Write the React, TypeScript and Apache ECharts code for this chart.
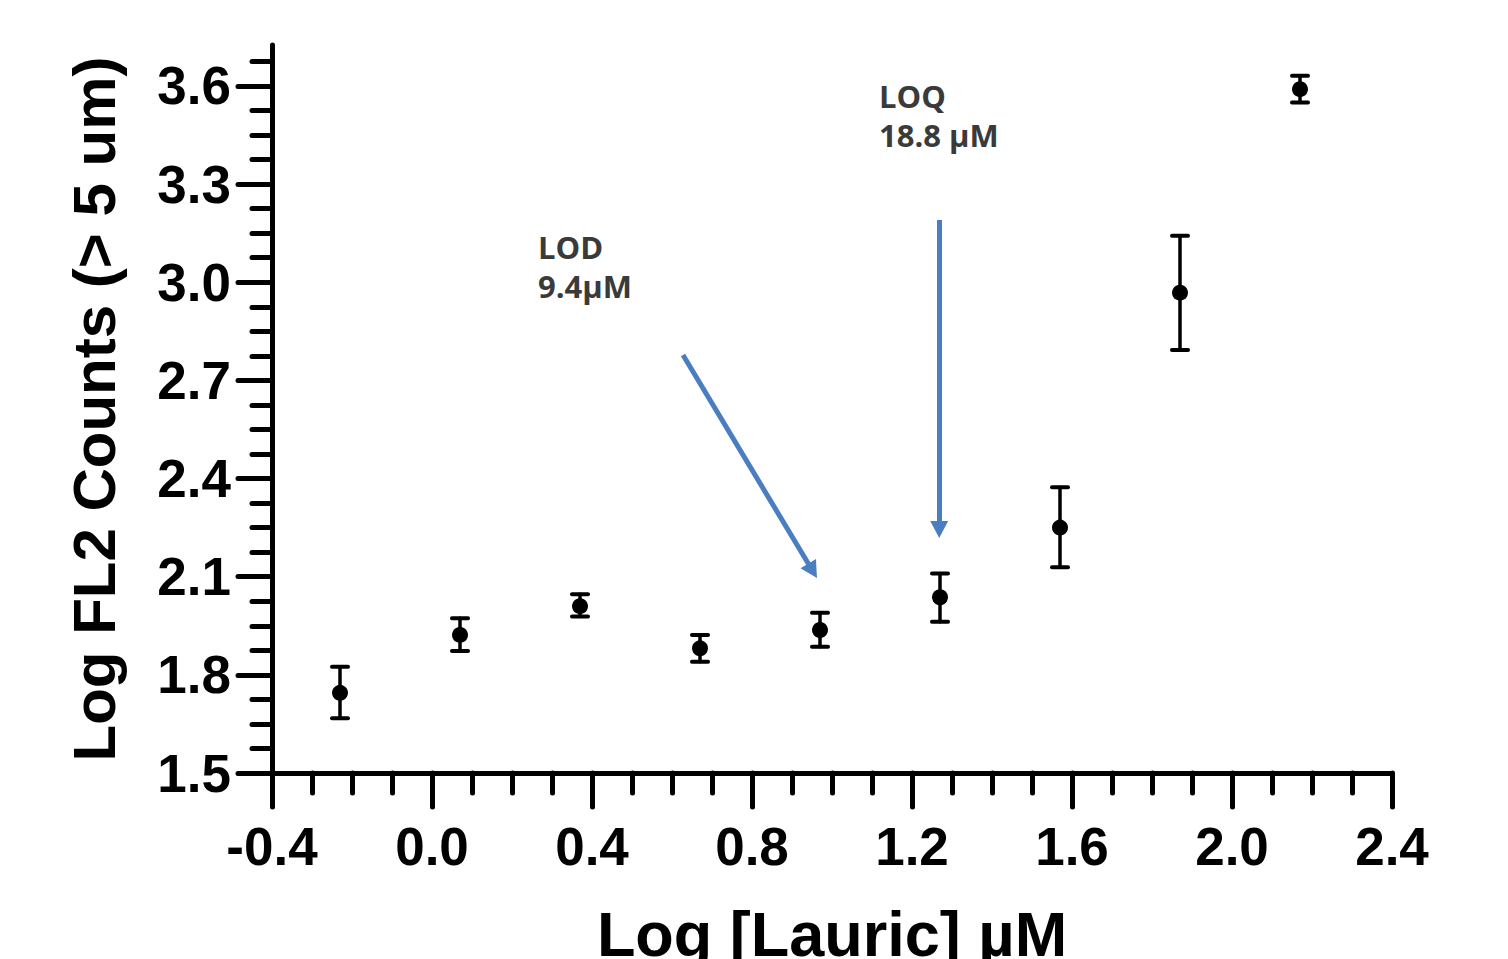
import React, { useEffect, useRef } from "react";
import * as echarts from "echarts";

// Log10 of lauric acid concentration (µM)
const xValues = [-0.23, 0.07, 0.37, 0.67, 0.97, 1.27, 1.57, 1.87, 2.17];
// Mean Log FL2 counts
const yMeans = [1.745, 1.922, 2.01, 1.881, 1.937, 2.037, 2.25, 2.968, 3.59];
// Error bar bounds
const yLower = [1.667, 1.873, 1.978, 1.84, 1.886, 1.962, 2.129, 2.793, 3.549];
const yUpper = [1.825, 1.973, 2.046, 1.922, 1.99, 2.11, 2.373, 3.142, 3.631];

const yMajorTicks = [1.5, 1.8, 2.1, 2.4, 2.7, 3.0, 3.3, 3.6];
const yMinorStep = 0.075;

// annotation arrows in data coords: [x1, y1, x2, y2]
const lodArrow = [0.6275, 2.7775, 0.9515, 2.118];
const loqArrow = [1.268, 3.19, 1.268, 2.244];
// annotation labels: text and top-left anchor in data coords
const lodLabel = { text: "LOD\n9.4µM", x: 0.265, y: 3.166 };
const loqLabel = { text: "LOQ\n18.8 µM", x: 1.1175, y: 3.63 };

const BLUE = "#4a7ebf";
const AXIS_FONT = "'Liberation Sans', Arial, sans-serif";

export default function App() {
  const ref = useRef<HTMLDivElement>(null);

  useEffect(() => {
    document.body.style.margin = "0";
    if (!ref.current) return;
    const chart = echarts.init(ref.current, null, { renderer: "svg" });

    const yMin = 1.5;
    const yMax = 3.725;
    const yMinor: number[] = [];
    for (let k = 0; yMin + k * yMinorStep <= 3.68; k++) {
      yMinor.push(Math.round((yMin + k * yMinorStep) * 1000) / 1000);
    }

    const errData = xValues.map((x, i) => [x, yLower[i], yUpper[i]]);
    const ptData = xValues.map((x, i) => [x, yMeans[i]]);

    const axisLineStyle = { color: "#000", width: 5, cap: "round" as const };

    chart.setOption({
      animation: false,
      backgroundColor: "#fff",
      grid: {
        left: 272,
        top: 45,
        width: 1120,
        height: 728,
        containLabel: false,
        outerBoundsMode: "none",
      },
      xAxis: {
        type: "value",
        min: -0.4,
        max: 2.4,
        interval: 0.4,
        name: "Log [Lauric] µM",
        nameLocation: "middle",
        nameGap: 129,
        nameTextStyle: {
          fontFamily: AXIS_FONT,
          fontWeight: "bold",
          fontSize: 63,
          color: "#000",
        },
        axisLine: { show: true, onZero: false, lineStyle: axisLineStyle },
        axisTick: { show: true, length: 34, lineStyle: { width: 5, color: "#000", cap: "round" } },
        minorTick: {
          show: true,
          splitNumber: 4,
          length: 20,
          lineStyle: { width: 5, color: "#000", cap: "round" },
        },
        splitLine: { show: false },
        minorSplitLine: { show: false },
        axisLabel: {
          margin: 47,
          fontFamily: AXIS_FONT,
          fontWeight: "bold",
          fontSize: 53,
          color: "#000",
          formatter: (v: number) => v.toFixed(1),
        },
      },
      yAxis: [
        {
          type: "value",
          min: yMin,
          max: yMax,
          interval: 0.3,
          position: "left",
          name: "Log FL2 Counts (> 5 um)",
          nameLocation: "middle",
          nameGap: 148,
          nameTextStyle: {
            fontFamily: AXIS_FONT,
            fontWeight: "bold",
            fontSize: 60,
            color: "#000",
          },
          axisLine: { show: true, onZero: false, lineStyle: axisLineStyle },
          axisTick: {
            show: true,
            length: 34,
            customValues: yMajorTicks,
            lineStyle: { width: 5, color: "#000", cap: "round" },
          },
          splitLine: { show: false },
          axisLabel: {
            margin: 41,
            customValues: yMajorTicks,
            fontFamily: AXIS_FONT,
            fontWeight: "bold",
            fontSize: 53,
            color: "#000",
            formatter: (v: number) => v.toFixed(1),
          },
        },
        {
          type: "value",
          min: yMin,
          max: yMax,
          interval: 0.3,
          position: "left",
          offset: 0,
          axisLine: { show: false, onZero: false },
          axisTick: {
            show: true,
            length: 20,
            customValues: yMinor,
            lineStyle: { width: 5, color: "#000", cap: "round" },
          },
          axisLabel: { show: false },
          splitLine: { show: false },
        },
      ],
      series: [
        {
          type: "custom",
          name: "error",
          xAxisIndex: 0,
          yAxisIndex: 0,
          data: errData,
          encode: { x: 0, y: [1, 2] },
          renderItem: (params: any, api: any) => {
            const x = api.value(0);
            const top = api.coord([x, api.value(2)]);
            const bot = api.coord([x, api.value(1)]);
            const hw = 8;
            const style = { stroke: "#000", lineWidth: 3.5, lineCap: "round" };
            const capStyle = { stroke: "#000", lineWidth: 4, lineCap: "round" };
            return {
              type: "group",
              children: [
                { type: "line", shape: { x1: top[0], y1: top[1], x2: bot[0], y2: bot[1] }, style },
                { type: "line", shape: { x1: top[0] - hw, y1: top[1], x2: top[0] + hw, y2: top[1] }, style: capStyle },
                { type: "line", shape: { x1: bot[0] - hw, y1: bot[1], x2: bot[0] + hw, y2: bot[1] }, style: capStyle },
              ],
            };
          },
          silent: true,
          z: 3,
        },
        {
          type: "scatter",
          name: "mean",
          data: ptData,
          symbol: "circle",
          symbolSize: 16,
          itemStyle: { color: "#000", opacity: 1 },
          silent: true,
          z: 4,
          markLine: {
            silent: true,
            symbol: ["none", "triangle"],
            symbolSize: [18, 17],
            label: { show: false },
            lineStyle: { color: BLUE, width: 5, type: "solid", opacity: 1 },
            itemStyle: { color: BLUE },
            emphasis: { disabled: true },
            data: [
              [{ coord: [lodArrow[0], lodArrow[1]] }, { coord: [lodArrow[2], lodArrow[3]] }],
              [{ coord: [loqArrow[0], loqArrow[1]] }, { coord: [loqArrow[2], loqArrow[3]] }],
            ],
          },
        },
      ],
    });

    const labels = [lodLabel, loqLabel].map((l) => {
      const p = chart.convertToPixel({ gridIndex: 0 }, [l.x, l.y]) as number[];
      return {
        type: "text",
        x: p[0],
        y: p[1],
        style: {
          text: l.text,
          fontFamily: "'Open Sans', sans-serif",
          fontWeight: "bold",
          fontSize: 31,
          lineHeight: 39,
          fill: "#3a3a3a",
          align: "left",
          verticalAlign: "top",
        },
        z: 10,
      };
    });
    chart.setOption({ graphic: labels });

    return () => chart.dispose();
  }, []);

  return <div ref={ref} style={{ width: 1508, height: 959 }} />;
}
